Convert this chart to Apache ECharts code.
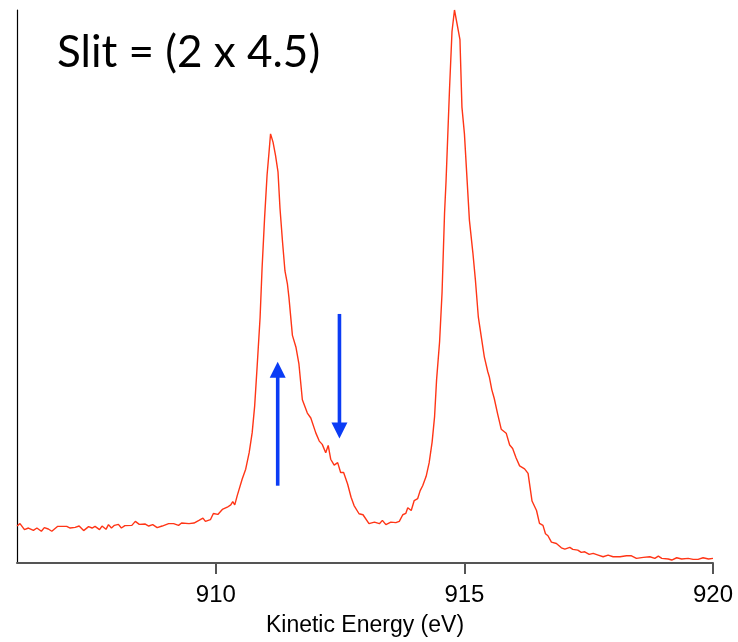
<!DOCTYPE html>
<html>
<head>
<meta charset="utf-8">
<script src="https://cdn.jsdelivr.net/npm/echarts@6/dist/echarts.min.js"></script>
<style>
html,body{margin:0;padding:0;background:#fff;}
#chart{width:738px;height:642px;}
</style>
</head>
<body>
<div id="chart"></div>
<script>
// Kinetic energy (eV)
const energy = [
906.00,906.06,906.15,906.23,906.33,906.40,906.49,906.55,906.63,906.70,906.82,907.00,907.07,907.17,907.25,907.34,907.44,907.51,907.57,907.66,
907.71,907.79,907.84,907.90,907.96,908.04,908.10,908.17,908.31,908.38,908.46,908.58,908.65,908.73,908.82,908.92,909.05,909.15,909.25,909.31,
909.46,909.56,909.66,909.74,909.79,909.89,909.95,910.04,910.13,910.23,910.30,910.34,910.38,910.43,910.46,910.53,910.60,910.67,910.73,910.78,
910.83,910.89,910.93,910.98,911.03,911.07,911.10,911.15,911.20,911.25,911.29,911.34,911.39,911.44,911.47,911.54,911.61,911.67,911.74,911.84,
911.91,912.01,912.08,912.14,912.21,912.26,912.31,912.38,912.45,912.51,912.57,912.65,912.72,912.78,912.88,912.96,913.08,913.19,913.29,913.35,
913.42,913.52,913.62,913.69,913.76,913.82,913.86,913.93,913.99,914.06,914.11,914.16,914.23,914.29,914.35,914.40,914.44,914.50,914.55,914.60,
914.63,914.70,914.75,914.80,914.91,914.95,915.00,915.10,915.17,915.22,915.28,915.34,915.40,915.47,915.50,915.55,915.60,915.67,915.74,915.84,
915.91,915.97,916.04,916.11,916.21,916.28,916.36,916.45,916.51,916.58,916.63,916.68,916.75,916.85,916.95,917.02,917.12,917.18,917.28,917.35,
917.42,917.51,917.59,917.69,917.79,917.89,917.99,918.13,918.26,918.29,918.36,918.46,918.60,918.73,918.83,918.90,918.97,919.10,919.17,919.27,
919.37,919.50,919.60,919.70,919.80,919.91,920.00
];
// Intensity (arbitrary units)
const intensity = [
37.3,39.7,33.7,35.3,33.0,35.3,32.0,35.7,34.3,32.0,37.0,37.0,35.3,36.0,37.3,32.7,36.7,35.3,37.0,33.7,
37.3,34.0,38.7,35.3,38.0,39.0,35.3,37.7,38.0,42.0,39.0,39.3,37.3,38.7,35.7,37.3,39.7,39.7,38.0,40.3,
39.7,40.3,43.0,45.3,42.0,43.7,50.0,49.0,54.0,56.3,58.7,62.0,58.7,68.0,73.0,84.7,94.7,111.3,131.3,158.0,
198.0,248.0,298.0,348.0,391.3,414.7,433.0,424.7,411.3,394.7,358.0,324.7,294.7,281.3,268.0,229.7,218.0,201.3,164.7,151.3,
146.3,131.3,123.0,119.7,111.3,118.7,104.7,98.7,101.3,91.3,91.3,79.7,66.3,58.0,49.7,48.7,39.7,41.3,39.7,43.0,
38.7,41.3,40.7,42.0,48.7,50.0,55.7,53.0,63.0,65.0,73.0,78.0,87.5,101.0,122.0,148.0,185.0,223.0,273.0,353.0,
385.0,478.0,536.3,558.0,528.0,460.0,433.0,346.0,313.0,286.0,248.0,228.0,208.0,193.0,188.0,175.0,166.0,150.0,135.0,131.0,
119.0,115.5,106.0,98.0,95.0,90.5,62.5,53.0,40.0,38.0,29.5,27.5,21.0,19.7,15.3,14.0,15.7,13.7,13.0,10.7,
11.3,8.7,9.7,8.0,6.3,8.0,6.3,6.3,7.3,5.3,7.3,4.7,5.7,6.3,4.7,7.0,4.7,4.0,3.0,5.3,
4.0,4.7,3.7,3.7,5.3,4.0,4.7
];
const xTicks = [910, 915, 920];
const titleText = 'Slit = (2 x 4.5)';
const xAxisName = 'Kinetic Energy (eV)';
// Annotation arrows: x position, start value, tip value
const arrowX = [911.244, 912.486];
const arrowFrom = [78, 251.3];
const arrowTo = [203, 125.7];

const lineColor = '#ff3516';
const arrowColor = '#0b3cf5';

const chart = echarts.init(document.getElementById('chart'), null, {renderer: 'canvas'});
chart.setOption({
  animation: false,
  backgroundColor: '#ffffff',
  title: {
    text: titleText,
    left: 57,
    top: 31,
    padding: 0,
    textStyle: {fontFamily: 'Lato', fontSize: 44, fontWeight: 'normal', color: '#000'}
  },
  grid: {left: 17, right: 25, top: 10, bottom: 74, containLabel: false},
  xAxis: {
    type: 'value',
    min: 906,
    max: 920,
    name: xAxisName,
    nameLocation: 'middle',
    nameGap: 51,
    nameTextStyle: {fontFamily: 'Liberation Sans', fontSize: 23, color: '#000'},
    axisLine: {show: true, onZero: false, lineStyle: {color: '#555', width: 2}},
    axisTick: {show: true, length: 11, customValues: xTicks, lineStyle: {color: '#555', width: 2}},
    axisLabel: {show: true, customValues: xTicks, margin: 20, fontFamily: 'Liberation Sans', fontSize: 24, color: '#000',
      showMinLabel: true, showMaxLabel: true},
    splitLine: {show: false}
  },
  yAxis: {
    type: 'value',
    min: 0,
    max: 558,
    axisLine: {show: true, onZero: false, lineStyle: {color: '#000', width: 1.2}},
    axisTick: {show: false},
    axisLabel: {show: false},
    splitLine: {show: false}
  },
  series: [
    {
      type: 'line',
      data: energy.map((e, i) => [e, intensity[i]]),
      showSymbol: false,
      symbol: 'none',
      smooth: false,
      lineStyle: {color: lineColor, width: 1.4},
      z: 2
    },
    {
      type: 'custom',
      data: arrowX.map((x, i) => [x, arrowFrom[i], arrowTo[i]]),
      encode: {x: 0, y: [1, 2]},
      z: 3,
      renderItem: function (params, api) {
        const x = api.value(0);
        const p0 = api.coord([x, api.value(1)]);
        const p1 = api.coord([x, api.value(2)]);
        const dir = p1[1] > p0[1] ? 1 : -1;
        const hl = 16, hw = 8;
        const base = p1[1] - dir * hl;
        return {
          type: 'group',
          children: [
            {type: 'line', shape: {x1: p0[0], y1: p0[1], x2: p1[0], y2: base + dir}, style: {stroke: arrowColor, lineWidth: 3.6}},
            {type: 'polygon', shape: {points: [[p1[0], p1[1]], [p1[0] - hw, base], [p1[0] + hw, base]]}, style: {fill: arrowColor}}
          ]
        };
      }
    }
  ]
});
</script>
</body>
</html>
